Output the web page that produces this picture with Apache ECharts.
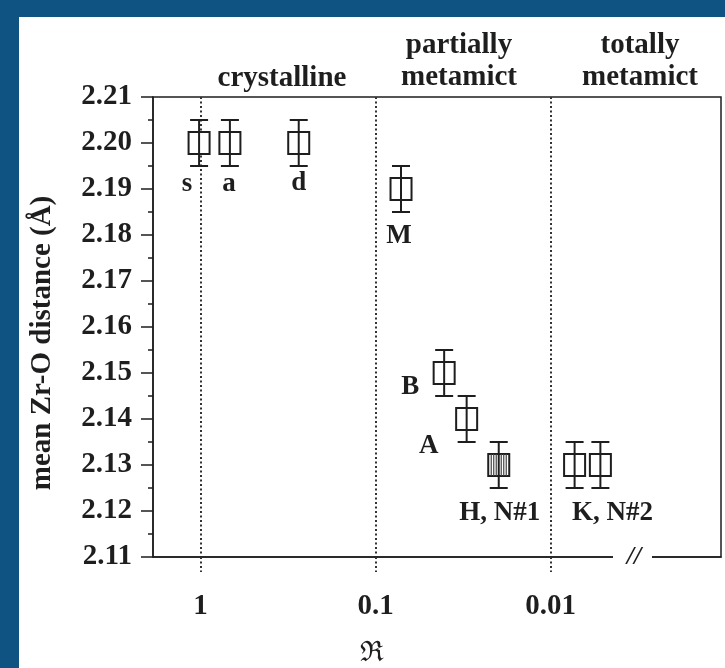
<!DOCTYPE html>
<html>
<head>
<meta charset="utf-8">
<script src="https://cdn.jsdelivr.net/npm/echarts@6/dist/echarts.min.js"></script>
<style>
  html, body { margin: 0; padding: 0; width: 725px; height: 668px; background: #0e5381; overflow: hidden; }
  #chart { position: absolute; left: 19px; top: 17px; width: 706px; height: 651px; background: #ffffff; }
</style>
</head>
<body>
<div id="chart"></div>
<script>
// ---- data ----
const sampleNames = ['s', 'a', 'd', 'M', 'B', 'A', 'H, N#1', 'K', 'N#2'];
const ratioR      = [1.02, 0.68, 0.275, 0.0716, 0.0406, 0.0302, 0.0198, 0.0073, 0.0052];
const meanZrO     = [2.200, 2.200, 2.200, 2.190, 2.150, 2.140, 2.130, 2.130, 2.130];
const errZrO      = [0.005, 0.005, 0.005, 0.005, 0.005, 0.005, 0.005, 0.005, 0.005];
const hatched     = [0, 0, 0, 0, 0, 0, 1, 0, 0];
const pointLabels = ['s', 'a', 'd', 'M', 'B', 'A', 'H, N#1', '', 'K, N#2'];
const xTickValues = [1, 0.1, 0.01];
const xTickLabels = ['1', '0.1', '0.01'];
const regionNames = ['crystalline', 'partially\nmetamict', 'totally\nmetamict'];

// ---- style only ----
const labelOffsets = [[-12, 41], [-1, 41], [0, 40], [-2, 47], [-34, 14], [-38, 27], [1, 48], [0, 0], [12, 48]];
const ink = '#1e1e1e';
const serif = '"Liberation Serif", "DejaVu Serif", serif';

const seriesData = ratioR.map((r, i) => [r, meanZrO[i], errZrO[i], hatched[i], i]);

function renderBox(params, api) {
  const x = api.value(0), y = api.value(1), e = api.value(2), h = api.value(3), idx = api.value(4);
  const c = api.coord([x, y]);
  const hi = api.coord([x, y + e]);
  const lo = api.coord([x, y - e]);
  const bw = 21, bh = 22, cap = 9;
  const st = { stroke: ink, lineWidth: 2, fill: null };
  const children = [
    { type: 'line', shape: { x1: c[0], y1: hi[1], x2: c[0], y2: lo[1] }, style: st },
    { type: 'line', shape: { x1: c[0] - cap, y1: hi[1], x2: c[0] + cap, y2: hi[1] }, style: st },
    { type: 'line', shape: { x1: c[0] - cap, y1: lo[1], x2: c[0] + cap, y2: lo[1] }, style: st },
    { type: 'rect', shape: { x: c[0] - bw / 2, y: c[1] - bh / 2, width: bw, height: bh }, style: { stroke: ink, lineWidth: 2, fill: '#fff' } },
    { type: 'line', shape: { x1: c[0], y1: c[1] - bh / 2, x2: c[0], y2: c[1] + bh / 2 }, style: st }
  ];
  if (h) {
    [-7.5, -5, -2.5, 2.5, 5, 7.5].forEach(dx => {
      children.push({ type: 'line', shape: { x1: c[0] + dx, y1: c[1] - bh / 2, x2: c[0] + dx, y2: c[1] + bh / 2 }, style: { stroke: '#444', lineWidth: 1.2 } });
    });
  }
  const lab = pointLabels[idx];
  if (lab) {
    const off = labelOffsets[idx];
    children.push({
      type: 'text',
      style: { x: c[0] + off[0], y: c[1] + off[1], text: lab, align: 'center', verticalAlign: 'middle',
               font: 'bold 27px ' + serif, fill: ink }
    });
  }
  return { type: 'group', children: children };
}

const chart = echarts.init(document.getElementById('chart'), null, { renderer: 'canvas' });
const dotted = { color: '#333', width: 2, type: [2, 2.5] };

chart.setOption({
  animation: false,
  grid: { left: 134, right: 4, top: 80, bottom: 111, show: true, borderColor: ink, borderWidth: 1.5, backgroundColor: 'transparent' },
  xAxis: {
    type: 'log', logBase: 10, inverse: true,
    min: 0.001064, max: 1.87,
    axisLine: { show: true, lineStyle: { color: ink, width: 1.5 } },
    axisTick: { show: true, customValues: xTickValues, length: 15, inside: false, lineStyle: dotted },
    splitLine: { show: true, lineStyle: dotted },
    minorTick: { show: false }, minorSplitLine: { show: false },
    axisLabel: {
      customValues: xTickValues, margin: 35,
      formatter: v => { const i = xTickValues.findIndex(t => Math.abs(Math.log10(t) - Math.log10(v)) < 1e-6); return i >= 0 ? xTickLabels[i] : ''; },
      fontFamily: serif, fontWeight: 'bold', fontSize: 29, color: ink
    }
  },
  yAxis: {
    type: 'value', min: 2.11, max: 2.21, interval: 0.01,
    axisLine: { show: true, lineStyle: { color: ink, width: 1.5 } },
    axisTick: { show: true, length: 12, inside: false, lineStyle: { color: ink, width: 1.5 } },
    minorTick: { show: true, splitNumber: 2, length: 5, lineStyle: { color: ink, width: 1.5 } },
    splitLine: { show: false },
    axisLabel: { margin: 21, formatter: v => v.toFixed(2), fontFamily: serif, fontWeight: 'bold', fontSize: 29, color: ink }
  },
  series: [{
    type: 'custom', renderItem: renderBox, data: seriesData, clip: false, z: 10,
    encode: { x: 0, y: 1 }
  }],
  graphic: [
    { type: 'rect', z: 100, shape: { x: 594, y: 534, width: 39, height: 12 }, style: { fill: '#fff' } },
    { type: 'text', z: 101, style: { x: 615, y: 540, text: '//', align: 'center', verticalAlign: 'middle', font: 'bold italic 26px ' + serif, fill: ink } },
    { type: 'text', z: 101, style: { x: 263, y: 62, text: regionNames[0], align: 'center', verticalAlign: 'middle', font: 'bold 29px ' + serif, fill: ink } },
    { type: 'text', z: 101, style: { x: 440, y: 45, text: regionNames[1], align: 'center', verticalAlign: 'middle', font: 'bold 29px ' + serif, fill: ink, lineHeight: 32 } },
    { type: 'text', z: 101, style: { x: 621, y: 45, text: regionNames[2], align: 'center', verticalAlign: 'middle', font: 'bold 29px ' + serif, fill: ink, lineHeight: 32 } },
    { type: 'text', z: 101, x: 24, y: 326, rotation: Math.PI / 2, style: { x: 0, y: 0, text: 'mean Zr-O distance (Å)', align: 'center', verticalAlign: 'middle', font: 'bold 29px ' + serif, fill: ink } },
    { type: 'text', z: 101, style: { x: 353, y: 637, text: 'ℜ', align: 'center', verticalAlign: 'middle', font: '28px "DejaVu Serif", serif', fill: ink } }
  ]
});
</script>
</body>
</html>
